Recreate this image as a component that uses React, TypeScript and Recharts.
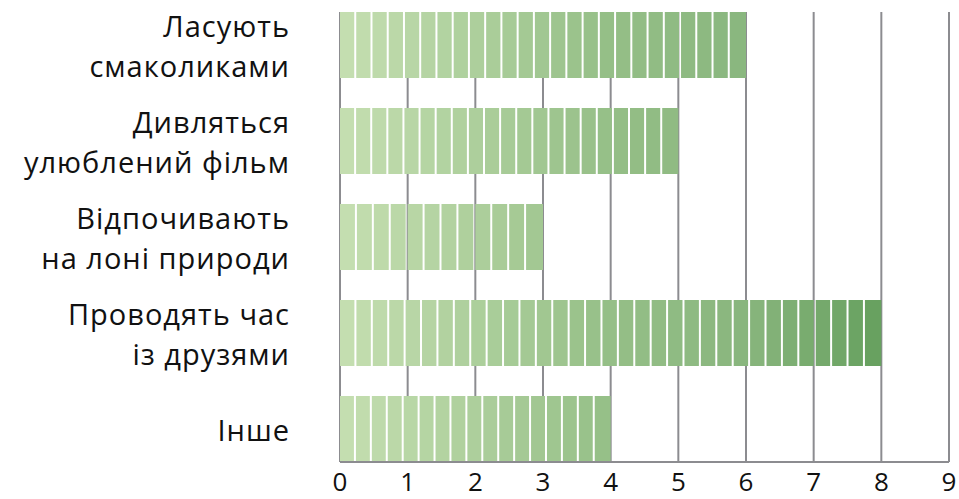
import { BarChart, Bar, XAxis, YAxis, CartesianGrid } from 'recharts';

const categories = [
  'Ласують\nсмаколиками',
  'Дивляться\nулюблений фільм',
  'Відпочивають\nна лоні природи',
  'Проводять час\nіз друзями',
  'Інше',
];
const values = [6, 5, 3, 8, 4];
const xTicks = [0, 1, 2, 3, 4, 5, 6, 7, 8, 9];

const data = categories.map((name, i) => ({ name, value: values[i] }));

const FONT = '"Open Sans", sans-serif';
const GRID = '#8c8c90';
const SEG = 16.4;

// colour stops along the value axis (0 .. 8 units)
const stops: Array<[number, number[]]> = [
  [0, [197, 223, 177]],
  [0.5, [149, 191, 135]],
  [0.75, [137, 182, 126]],
  [1, [102, 160, 94]],
];

function colorAt(t: number) {
  const c = Math.max(0, Math.min(1, t));
  for (let i = 1; i < stops.length; i++) {
    const [t1, c1] = stops[i];
    const [t0, c0] = stops[i - 1];
    if (c <= t1) {
      const k = (c - t0) / (t1 - t0);
      const rgb = c0.map((v, j) => Math.round(v + (c1[j] - v) * k));
      return `rgb(${rgb.join(',')})`;
    }
  }
  return 'rgb(102,160,94)';
}

function SegmentedBar(props: any) {
  const { x, y, width, height, value } = props;
  if (!width || width <= 0) return null;
  const unit = width / value;
  const n = Math.max(1, Math.round(width / SEG));
  const w = width / n;
  const rects = [];
  for (let i = 0; i < n; i++) {
    const sx = x + i * w;
    const t = (sx + w / 2 - x) / (unit * 8);
    rects.push(
      <rect
        key={i}
        x={sx}
        y={y}
        width={i === n - 1 ? w : w - 2}
        height={height}
        fill={colorAt(t)}
      />
    );
  }
  return <g>{rects}</g>;
}

function CategoryTick(props: any) {
  const { x, y, payload } = props;
  const lines = String(payload.value).split('\n');
  const lh = 40;
  const start = y - ((lines.length - 1) * lh) / 2;
  return (
    <g>
      {lines.map((line, i) => (
        <text
          key={i}
          x={x - 50}
          y={start + i * lh}
          textAnchor="end"
          dominantBaseline="central"
          fontFamily={FONT}
          fontSize={29}
          letterSpacing={1}
          fill="#111"
        >
          {line}
        </text>
      ))}
    </g>
  );
}

function ValueTick(props: any) {
  const { x, payload } = props;
  return (
    <text
      x={x}
      y={481}
      textAnchor="middle"
      dominantBaseline="central"
      fontFamily={FONT}
      fontSize={26}
      fill="#111"
    >
      {payload.value}
    </text>
  );
}

export default function App() {
  return (
    <div style={{ position: 'absolute', left: 0, top: 0, background: '#fff' }}>
      <BarChart
        width={959}
        height={499}
        data={data}
        layout="vertical"
        margin={{ top: 12, right: 10, bottom: 0, left: 0 }}
      >
        <CartesianGrid horizontal={false} stroke={GRID} strokeWidth={2} />
        <XAxis
          type="number"
          domain={[0, 9]}
          ticks={xTicks}
          height={37}
          axisLine={{ stroke: GRID, strokeWidth: 2 }}
          tickLine={false}
          tick={<ValueTick />}
          interval={0}
        />
        <YAxis
          type="category"
          dataKey="name"
          width={340}
          axisLine={false}
          tickLine={false}
          tickSize={0}
          tickMargin={0}
          tick={<CategoryTick />}
          padding={{ top: -15, bottom: -15 }}
          interval={0}
        />
        <Bar dataKey="value" barSize={66} shape={<SegmentedBar />} isAnimationActive={false} />
      </BarChart>
    </div>
  );
}
